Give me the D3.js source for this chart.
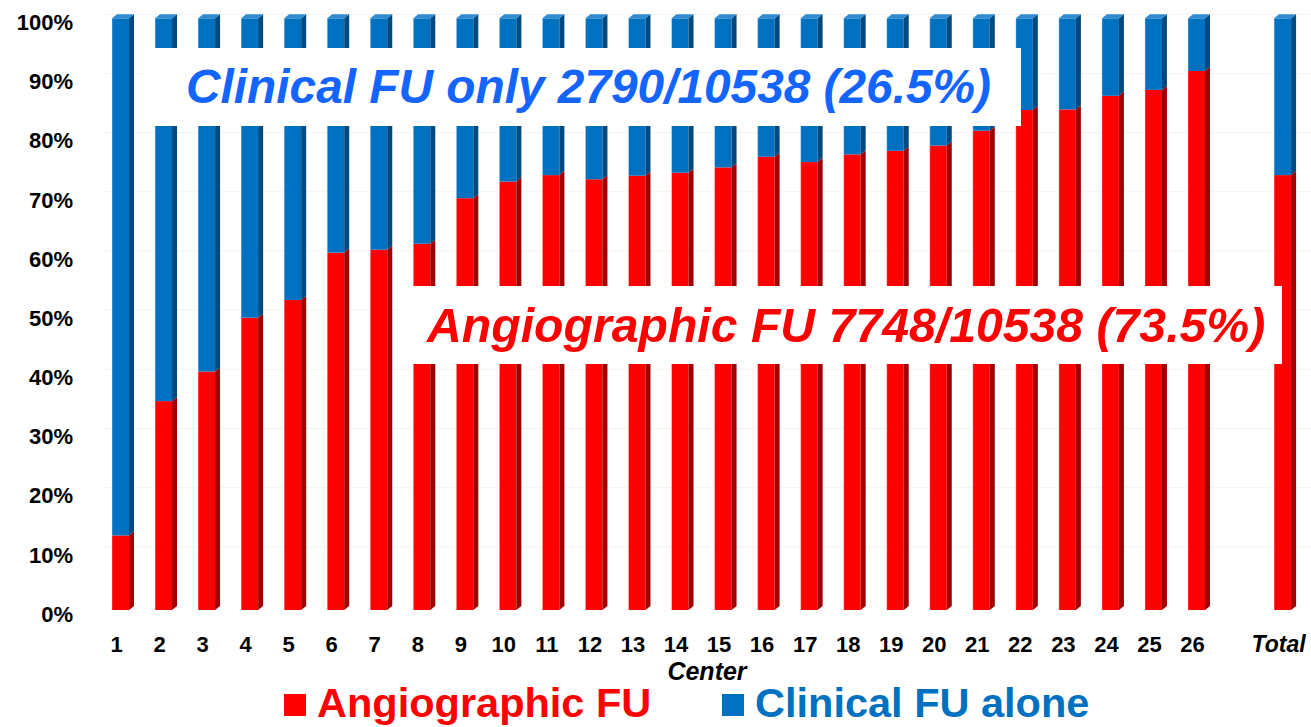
<!DOCTYPE html>
<html><head><meta charset="utf-8">
<script src="https://cdn.jsdelivr.net/npm/d3@7"></script>
<style>
html,body{margin:0;padding:0;background:#fff;}
svg{display:block;font-family:"Liberation Sans",Arial,sans-serif;}
</style></head>
<body>
<svg id="chart" width="1311" height="727"></svg>
<script>
// ---- data ----
const centers = ["1","2","3","4","5","6","7","8","9","10","11","12","13","14","15","16","17","18","19","20","21","22","23","24","25","26"];
const angioPct = [12.6,35.3,40.3,49.4,52.4,60.4,60.9,61.9,69.6,72.4,73.5,72.8,73.4,73.9,74.8,76.6,75.7,77.0,77.6,78.5,81.0,84.5,84.6,86.9,87.9,91.1];
const totalLabel = "Total";
const totalAngio = 73.5;
const yTicks = [0,10,20,30,40,50,60,70,80,90,100];
const seriesNames = ["Angiographic FU","Clinical FU alone"];
const clinicalNote = "Clinical FU only 2790/10538 (26.5%)";
const angioNote = "Angiographic FU 7748/10538 (73.5%)";
const xTitle = "Center";

// ---- build rows ----
const rows = centers.map((c,i)=>({label:c, idx:i, angio:angioPct[i]}));
rows.push({label:totalLabel, idx:27, angio:totalAngio});

const svg = d3.select("#chart");
const x = d3.scaleLinear().domain([0,27]).range([112, 112+27*43.04]);
const y = d3.scaleLinear().domain([0,100]).range([610, 18.3]);
const bw = 17, dx = 5, dy = 4;

const colors = {
  red:"#ff0000", redSide:"#a00000",
  blue:"#0070c0", blueSide:"#004a80", blueTop:"#2f8ad0"
};

// faint gridlines
svg.append("g").selectAll("line").data(yTicks.slice(1)).join("line")
  .attr("x1",104).attr("x2",1311)
  .attr("y1",d=>y(d)-dy).attr("y2",d=>y(d)-dy)
  .attr("stroke","#f3f3f3").attr("stroke-width",1);

// y tick labels
svg.append("g").selectAll("text").data(yTicks).join("text")
  .attr("x",73).attr("y",d=>y(d)+6)
  .attr("text-anchor","end").attr("dominant-baseline","middle")
  .attr("font-size",22).attr("font-weight","bold").attr("fill","#000")
  .text(d=>d+"%");

// bars
const g = svg.append("g");
rows.forEach(r=>{
  const x0 = x(r.idx), x1 = x0+bw;
  const yb = y(0), ya = y(r.angio), yt = y(100);
  g.append("rect").attr("x",x0).attr("y",ya).attr("width",bw).attr("height",yb-ya).attr("fill",colors.red);
  g.append("path").attr("d",`M${x1},${yb}L${x1+dx},${yb-dy}L${x1+dx},${ya-dy}L${x1},${ya}Z`).attr("fill",colors.redSide);
  g.append("rect").attr("x",x0).attr("y",yt).attr("width",bw).attr("height",ya-yt).attr("fill",colors.blue);
  g.append("path").attr("d",`M${x1},${ya}L${x1+dx},${ya-dy}L${x1+dx},${yt-dy}L${x1},${yt}Z`).attr("fill",colors.blueSide);
  g.append("path").attr("d",`M${x0},${yt}L${x0+dx},${yt-dy}L${x1+dx},${yt-dy}L${x1},${yt}Z`).attr("fill",colors.blueTop);
  g.append("line").attr("x1",x0).attr("x2",x0).attr("y1",yt).attr("y2",yb).attr("stroke","rgba(255,255,255,0.35)").attr("stroke-width",1);
});

// category labels
svg.append("g").selectAll("text").data(rows).join("text")
  .attr("x",d=>x(d.idx)+4.5).attr("y",651.5)
  .attr("text-anchor","middle")
  .attr("font-size",d=>d.label===totalLabel?23:22).attr("font-weight","bold")
  .attr("font-style",d=>d.label===totalLabel?"italic":"normal")
  .attr("fill","#000").text(d=>d.label);

// axis title
svg.append("text").attr("x",707).attr("y",680).attr("text-anchor","middle")
  .attr("font-size",25).attr("font-weight","bold").attr("font-style","italic").attr("fill","#000").text(xTitle);

// annotation boxes
svg.append("rect").attr("x",145).attr("y",48).attr("width",1021-145).attr("height",78).attr("fill","#fff");
svg.append("text").attr("x",186).attr("y",103).attr("font-size",47.8).attr("font-weight","bold").attr("font-style","italic")
  .attr("fill","#1464ff").text(clinicalNote);
svg.append("rect").attr("x",400).attr("y",286).attr("width",1282-400).attr("height",78).attr("fill","#fff");
svg.append("text").attr("x",427).attr("y",342).attr("font-size",48.2).attr("font-weight","bold").attr("font-style","italic")
  .attr("fill","#ff0000").text(angioNote);

// legend
const leg = svg.append("g");
const legItems = [{name:seriesNames[0],color:colors.red,sx:284,tx:317},{name:seriesNames[1],color:colors.blue,sx:722,tx:755}];
legItems.forEach(l=>{
  leg.append("rect").attr("x",l.sx).attr("y",694).attr("width",22).attr("height",22).attr("fill",l.color);
  leg.append("text").attr("x",l.tx).attr("y",717).attr("font-size",41.5).attr("font-weight","bold").attr("fill",l.color).text(l.name);
});
</script>
</body></html>
